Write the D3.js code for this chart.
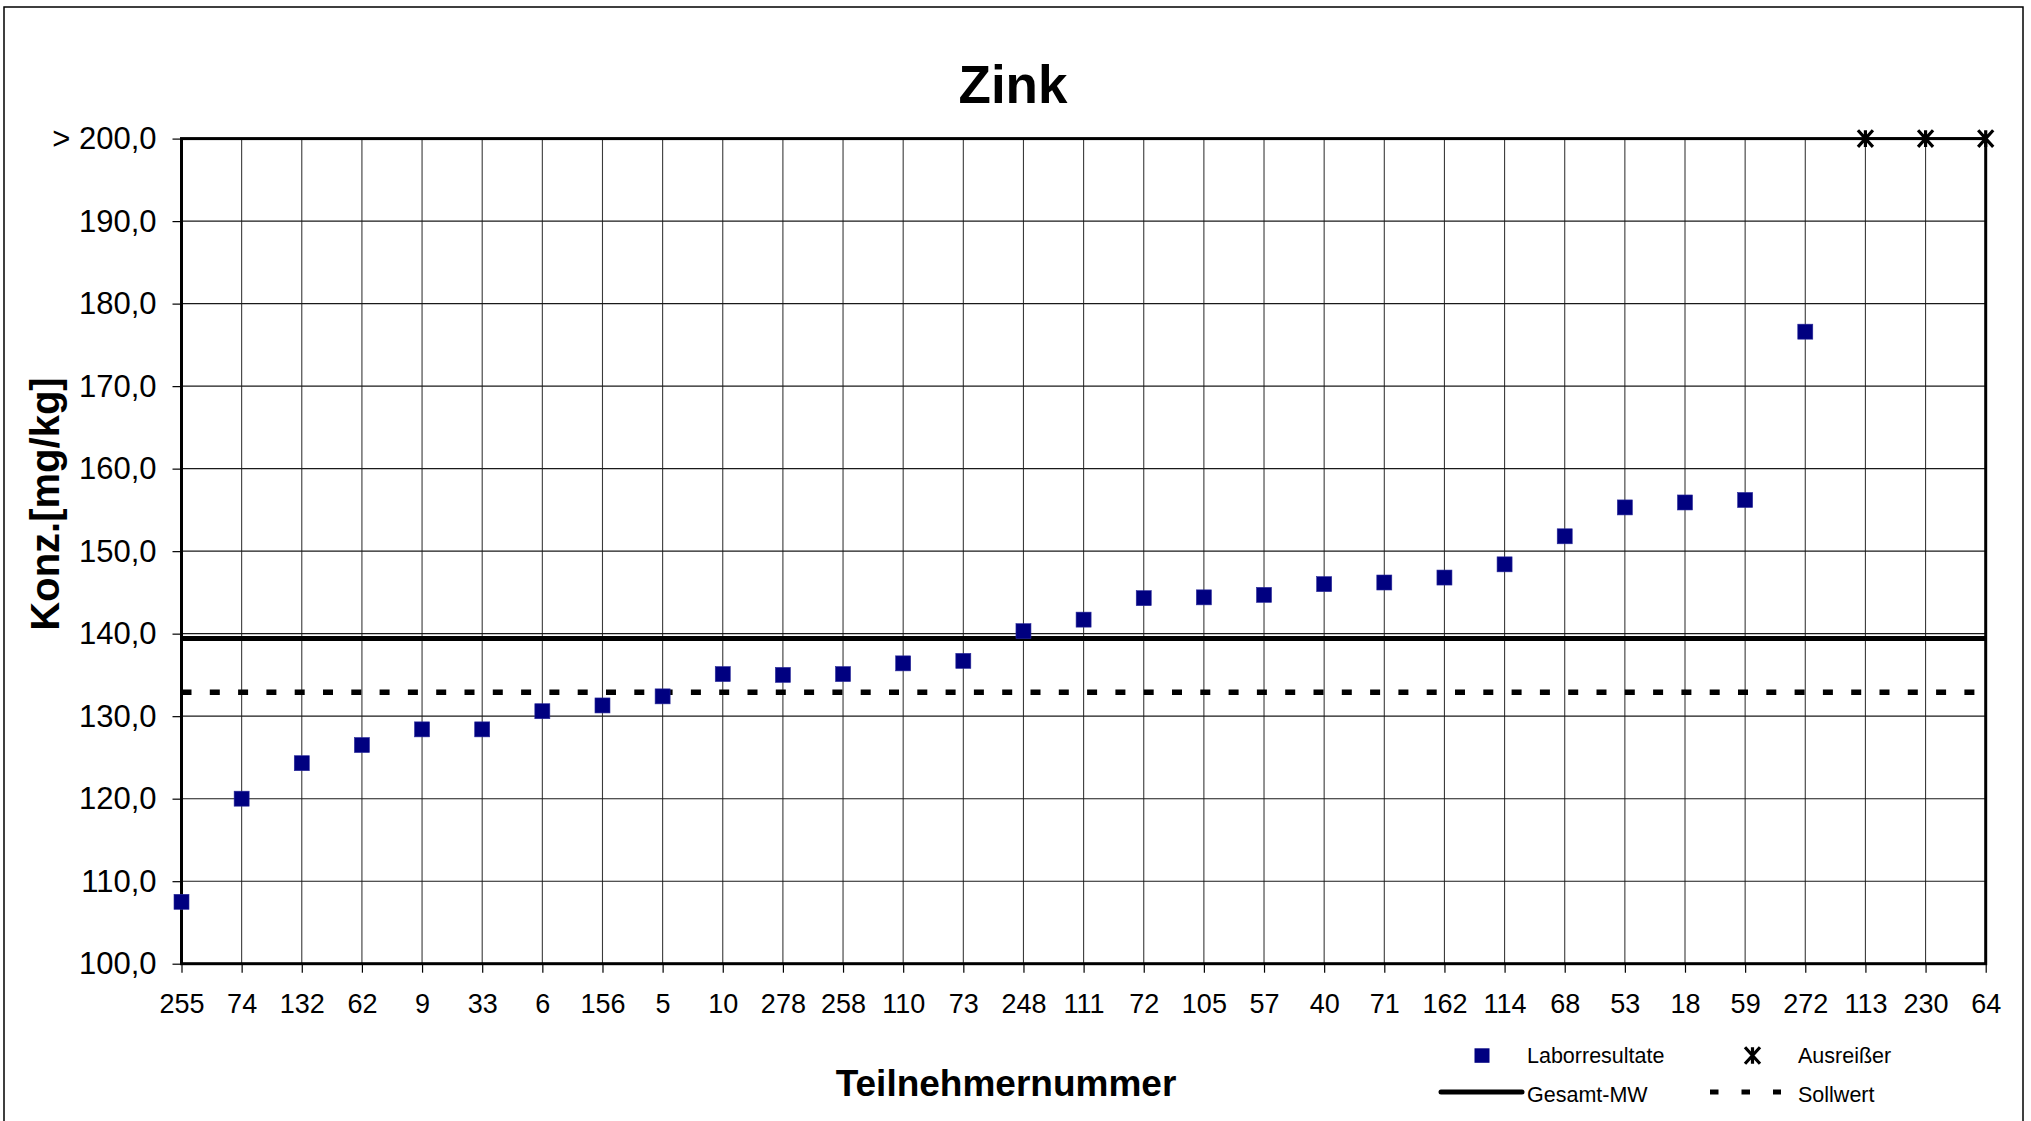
<!DOCTYPE html>
<html>
<head>
<meta charset="utf-8">
<script src="https://cdn.jsdelivr.net/npm/d3@7"></script>
<style>
  html, body { margin: 0; padding: 0; background: #fff; }
  svg { display: block; font-family: "Liberation Sans", Arial, sans-serif; }
</style>
</head>
<body>
<svg id="chart" width="2031" height="1121"></svg>
<script>
// ---------- data ----------
const categories = ["255","74","132","62","9","33","6","156","5","10","278","258","110","73","248","111","72","105","57","40","71","162","114","68","53","18","59","272","113","230","64"];
const laborValues = [107.5,120.0,124.3,126.5,128.4,128.4,130.6,131.3,132.4,135.1,135.0,135.1,136.4,136.7,140.3,141.7,144.3,144.4,144.7,146.0,146.2,146.8,148.4,151.8,155.3,155.9,156.2,176.6,null,null,null];
const outlierCategories = ["113","230","64"];
const outlierValues = [200, 200, 200]; // > 200,0 (capped at top)
const gesamtMW = 139.4;
const sollwert = 132.9;
const yTicks = [100,110,120,130,140,150,160,170,180,190,200];
const title = "Zink";
const xTitle = "Teilnehmernummer";
const yTitle = "Konz.[mg/kg]";
const legendLabels = ["Laborresultate","Ausreißer","Gesamt-MW","Sollwert"];

// ---------- layout ----------
const svg = d3.select("#chart");
const L = 181.5, R = 1985.7, T = 138.6, B = 963.7;
const navy = "#000080";

const x = d3.scalePoint().domain(categories).range([L, R]).padding(0);
const y = d3.scaleLinear().domain([100, 200]).range([B, T]);

// outer chart border
svg.append("rect").attr("x", 4).attr("y", 7).attr("width", 2019).attr("height", 1140)
  .attr("fill", "none").attr("stroke", "#000").attr("stroke-width", 1.5);

// title
svg.append("text").attr("x", 1013).attr("y", 102.5).attr("text-anchor", "middle")
  .attr("font-weight", "bold").attr("font-size", 53).text(title);

// gridlines
const grid = svg.append("g");
grid.selectAll("line.v").data(categories).join("line").attr("class", "v")
  .attr("x1", d => x(d)).attr("x2", d => x(d)).attr("y1", T).attr("y2", B)
  .attr("stroke", "#3a3a3a").attr("stroke-width", 1.1);
grid.selectAll("line.h").data(yTicks).join("line").attr("class", "h")
  .attr("x1", L).attr("x2", R).attr("y1", d => y(d)).attr("y2", d => y(d))
  .attr("stroke", "#1a1a1a").attr("stroke-width", 1.1);

// axes
const fmt = v => (v === 200 ? "> " : "") + d3.format(".1f")(v).replace(".", ",");
const yAxis = svg.append("g").attr("transform", `translate(${L},0)`)
  .call(d3.axisLeft(y).tickValues(yTicks).tickSize(9).tickPadding(16).tickFormat(fmt));
yAxis.select(".domain").remove();
yAxis.selectAll("line").attr("stroke", "#000").attr("stroke-width", 1.2);
yAxis.selectAll("text").attr("font-size", 31).attr("fill", "#000")
  .attr("font-family", "Liberation Sans, Arial, sans-serif");

const xAxis = svg.append("g").attr("transform", `translate(0,${B})`)
  .call(d3.axisBottom(x).tickSize(9).tickPadding(0));
xAxis.select(".domain").remove();
xAxis.selectAll("line").attr("stroke", "#000").attr("stroke-width", 1.2);
xAxis.selectAll("text").attr("font-size", 27).attr("fill", "#000").attr("dy", 0)
  .attr("y", 49.5).attr("font-family", "Liberation Sans, Arial, sans-serif");

// plot frame
svg.append("rect").attr("x", L).attr("y", T).attr("width", R - L).attr("height", B - T)
  .attr("fill", "none").attr("stroke", "#000").attr("stroke-width", 3);

// Gesamt-MW line
svg.append("line").attr("x1", L).attr("x2", R).attr("y1", y(gesamtMW)).attr("y2", y(gesamtMW))
  .attr("stroke", "#000").attr("stroke-width", 5);
// Sollwert line
svg.append("line").attr("x1", L).attr("x2", R).attr("y1", y(sollwert)).attr("y2", y(sollwert))
  .attr("stroke", "#000").attr("stroke-width", 5.5).attr("stroke-dasharray", "10,18.3");

// Laborresultate markers
const ms = 15;
svg.append("g").selectAll("rect")
  .data(categories.map((c, i) => ({c, v: laborValues[i]})).filter(d => d.v != null))
  .join("rect")
  .attr("x", d => x(d.c) - ms / 2).attr("y", d => y(d.v) - ms / 2)
  .attr("width", ms).attr("height", ms)
  .attr("fill", navy).attr("stroke", "#2a2a9a").attr("stroke-width", 0.6);

// Ausreißer line + star markers
const outl = outlierCategories.map((c, i) => ({c, v: outlierValues[i]}));
svg.append("path").datum(outl)
  .attr("d", d3.line().x(d => x(d.c)).y(d => y(d.v)))
  .attr("fill", "none").attr("stroke", "#000").attr("stroke-width", 2.2);

function star(g, cx, cy) {
  const sx = 7.5, sy = 8.3;
  g.append("path")
    .attr("d", `M${cx - sx},${cy - sy}L${cx + sx},${cy + sy}M${cx - sx},${cy + sy}L${cx + sx},${cy - sy}M${cx},${cy - sy}L${cx},${cy + sy}`)
    .attr("stroke", "#000").attr("stroke-width", 3.2).attr("fill", "none");
}
const og = svg.append("g");
outl.forEach(d => star(og, x(d.c), y(d.v)));

// axis titles
svg.append("text").attr("x", 1006).attr("y", 1096).attr("text-anchor", "middle")
  .attr("font-weight", "bold").attr("font-size", 37).text(xTitle);
svg.append("text").attr("transform", "translate(59,504) rotate(-90)").attr("text-anchor", "middle")
  .attr("font-weight", "bold").attr("font-size", 40).text(yTitle);

// legend
const lg = svg.append("g").attr("font-size", 21.5);
lg.append("rect").attr("x", 1474.5).attr("y", 1048.3).attr("width", 15).attr("height", 14.5).attr("fill", navy);
lg.append("text").attr("x", 1527).attr("y", 1062.7).text(legendLabels[0]);
star(lg, 1752.5, 1055.5);
lg.append("text").attr("x", 1798).attr("y", 1062.7).text(legendLabels[1]);
lg.append("line").attr("x1", 1441).attr("x2", 1522).attr("y1", 1092).attr("y2", 1092)
  .attr("stroke", "#000").attr("stroke-width", 5).attr("stroke-linecap", "round");
lg.append("text").attr("x", 1527).attr("y", 1101.7).text(legendLabels[2]);
lg.append("line").attr("x1", 1710).attr("x2", 1781).attr("y1", 1092).attr("y2", 1092)
  .attr("stroke", "#000").attr("stroke-width", 5).attr("stroke-dasharray", "8.5,23");
lg.append("text").attr("x", 1798).attr("y", 1101.7).text(legendLabels[3]);
</script>
</body>
</html>
